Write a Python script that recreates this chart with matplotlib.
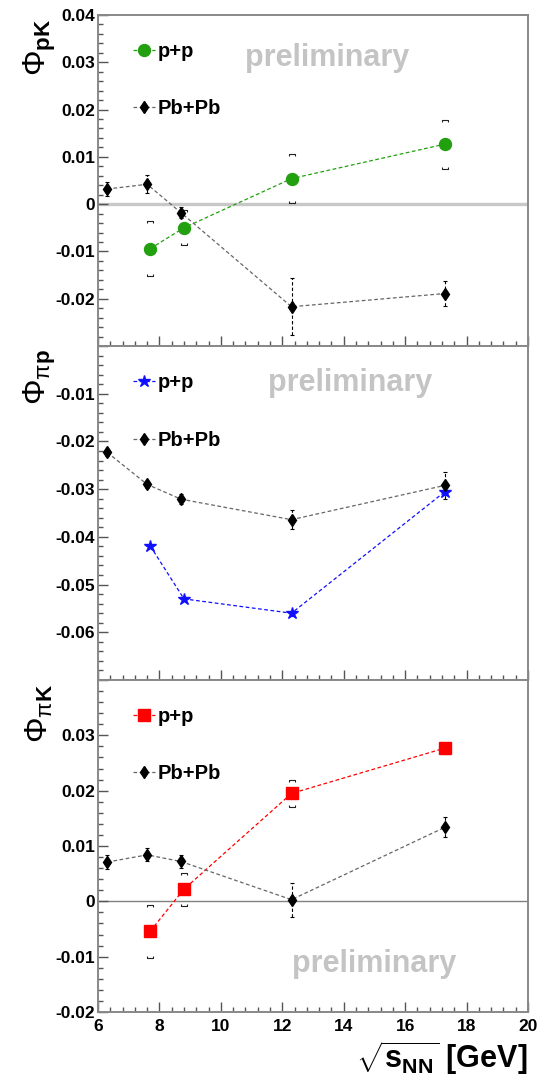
import matplotlib
matplotlib.use("Agg")
import matplotlib.pyplot as plt
from matplotlib.path import Path
from matplotlib.ticker import MultipleLocator, FuncFormatter

plt.rcParams['font.family'] = ['Liberation Sans', 'DejaVu Sans']
plt.rcParams['mathtext.fontset'] = 'custom'
plt.rcParams['mathtext.rm'] = 'Liberation Sans'
plt.rcParams['mathtext.bf'] = 'Liberation Sans:bold'
plt.rcParams['mathtext.it'] = 'Liberation Sans:italic'
plt.rcParams['mathtext.sf'] = 'Liberation Sans'

# collision energies
pp_x = [7.7, 8.8, 12.3, 17.3]
pbpb_x = [6.3, 7.6, 8.7, 12.3, 17.3]

# Phi_pK
pK_pp = [-0.0094, -0.0050, 0.0054, 0.0127]
pK_pp_err = [0.0005, 0.0005, 0.0005, 0.0005]
pK_pp_sys = [0.0058, 0.0037, 0.0051, 0.0052]
pK_pbpb = [0.0032, 0.0042, -0.0018, -0.0217, -0.0189]
pK_pbpb_err = [0.0015, 0.0019, 0.0012, 0.0060, 0.0027]

# Phi_pi p
pip_pp = [-0.0419, -0.0530, -0.0560, -0.0305]
pip_pp_err = [0.0005, 0.0005, 0.0005, 0.0008]
pip_pbpb = [-0.0223, -0.0290, -0.0321, -0.0364, -0.0292]
pip_pbpb_err = [0.0008, 0.0008, 0.0010, 0.0020, 0.0028]

# Phi_pi K
piK_pp = [-0.0054, 0.0022, 0.0195, 0.0277]
piK_pp_err = [0.0005, 0.0005, 0.0005, 0.0005]
piK_pp_sys = [0.0048, 0.0030, 0.0024, 0.0010]
piK_pbpb = [0.0071, 0.0084, 0.0072, 0.0003, 0.0134]
piK_pbpb_err = [0.0012, 0.0012, 0.0011, 0.0031, 0.0018]

y_titles = [r'$\Phi_{\mathbf{pK}}$', r'$\Phi_{\mathrm{\pi}\mathbf{p}}$', r'$\Phi_{\mathrm{\pi}\mathbf{K}}$']
y_ranges = [(-0.03, 0.04), (-0.07, 0.0), (-0.02, 0.04)]
y_labelled = [(-0.02, 0.04), (-0.06, -0.01), (-0.02, 0.03)]
pp_labels = ['p+p', 'p+p', 'p+p']
pbpb_label = 'Pb+Pb'

FIG_W, FIG_H = 537, 1080
fig = plt.figure(figsize=(FIG_W / 100, FIG_H / 100), dpi=100)

left = 98 / FIG_W
width = (528 - 98) / FIG_W
edges = [15, 346, 680, 1012]  # pixel rows of panel borders (top to bottom)
axes = []
for i in range(3):
    top = 1 - edges[i] / FIG_H
    bot = 1 - edges[i + 1] / FIG_H
    axes.append(fig.add_axes([left, bot, width, top - bot]))

upper_br = Path([(-1, -0.7), (-1, 0), (1, 0), (1, -0.7)],
                [Path.MOVETO, Path.LINETO, Path.LINETO, Path.LINETO])
lower_br = Path([(-1, 0.7), (-1, 0), (1, 0), (1, 0.7)],
                [Path.MOVETO, Path.LINETO, Path.LINETO, Path.LINETO])

dash = (0, (3, 2))


def draw_series(ax, x, y, err, color, marker, ms, label, line_color=None, sys=None):
    lc = line_color if line_color else color
    eb = ax.errorbar(x, y, yerr=err, fmt='none', ecolor='black' if line_color else color,
                     elinewidth=0.8, capsize=1.6, capthick=0.8, zorder=4)
    eb[2][0].set_linestyle(dash)
    if sys is not None:
        ax.plot(x, [a + b for a, b in zip(y, sys)], ls='none', marker=upper_br,
                ms=4, mew=0.8, mec='#222222', mfc='none', zorder=4)
        ax.plot(x, [a - b for a, b in zip(y, sys)], ls='none', marker=lower_br,
                ms=4, mew=0.8, mec='#222222', mfc='none', zorder=4)
    h, = ax.plot(x, y, ls=dash, lw=0.9, color=lc, marker=marker, ms=ms,
                 mfc=color, mec=color, label=label, zorder=5)
    return h


def make_fmt(lo, hi):
    def f(v, pos):
        if v < lo - 1e-9 or v > hi + 1e-9:
            return ''
        if abs(v) < 1e-9:
            return '0'
        return f'{v:.2f}'
    return f


series = [
    (pK_pp, pK_pp_err, pK_pp_sys, '#22a010', 'o', 8.6, pK_pbpb, pK_pbpb_err),
    (pip_pp, pip_pp_err, None, '#1010ff', '*', 9, pip_pbpb, pip_pbpb_err),
    (piK_pp, piK_pp_err, piK_pp_sys, '#ff0000', 's', 9, piK_pbpb, piK_pbpb_err),
]
prelim_pos = [(0.533, 0.87), (0.586, 0.889), (0.642, 0.145)]

for i, ax in enumerate(axes):
    pp, ppe, pps, col, mk, ms, pb, pbe = series[i]
    ax.set_xlim(6, 20)
    ax.set_ylim(*y_ranges[i])

    if i == 0:
        ax.axhline(0, color='#c8c8c8', lw=2.4, zorder=1)
    elif i == 2:
        ax.axhline(0, color='#808080', lw=1.0, zorder=1)

    h_pp = draw_series(ax, pp_x, pp, ppe, col, mk, ms, pp_labels[i], sys=pps)
    h_pb = draw_series(ax, pbpb_x, pb, pbe, 'black', 'd', 6.3, pbpb_label, line_color='#666666')

    ax.legend(handles=[h_pp, h_pb], loc='upper left', bbox_to_anchor=(0.081, 0.918),
              frameon=False, borderpad=0, borderaxespad=0, handlelength=1.1,
              handletextpad=0.15, labelspacing=1.9,
              prop={'family': 'Liberation Sans', 'weight': 'bold', 'size': 14.5})

    ax.text(*prelim_pos[i], 'preliminary', transform=ax.transAxes, ha='center', va='center',
            fontsize=22, fontweight='bold', color='#c4c4c4', zorder=2)

    ax.text(-0.135, 0.99, y_titles[i], transform=ax.transAxes, rotation=90,
            ha='center', va='top', fontsize=23)

    ax.xaxis.set_major_locator(MultipleLocator(2))
    ax.xaxis.set_minor_locator(MultipleLocator(0.4))
    ax.yaxis.set_major_locator(MultipleLocator(0.01))
    ax.yaxis.set_minor_locator(MultipleLocator(0.002))
    ax.yaxis.set_major_formatter(FuncFormatter(make_fmt(*y_labelled[i])))
    ax.tick_params(which='both', direction='in', top=False, right=False, color='#555555')
    ax.tick_params(which='major', length=7.5, width=1.0)
    ax.tick_params(which='minor', length=3.8, width=1.0)
    ax.tick_params(axis='y', pad=2, labelsize=12.5)
    ax.tick_params(axis='x', pad=5, labelsize=12.5)
    for lab in ax.get_yticklabels() + ax.get_xticklabels():
        lab.set_fontweight('bold')
    if i < 2:
        ax.tick_params(axis='x', labelbottom=False)
    for sp in ax.spines.values():
        sp.set_color('#888888')
        sp.set_linewidth(1.4)

fig.text(0.983, 0.011, r'$\sqrt{\mathbf{s}_{\mathbf{NN}}}$ [GeV]', ha='right', va='baseline',
         fontsize=22, fontweight='bold')

fig.savefig('out.png', dpi=100, facecolor='white')
